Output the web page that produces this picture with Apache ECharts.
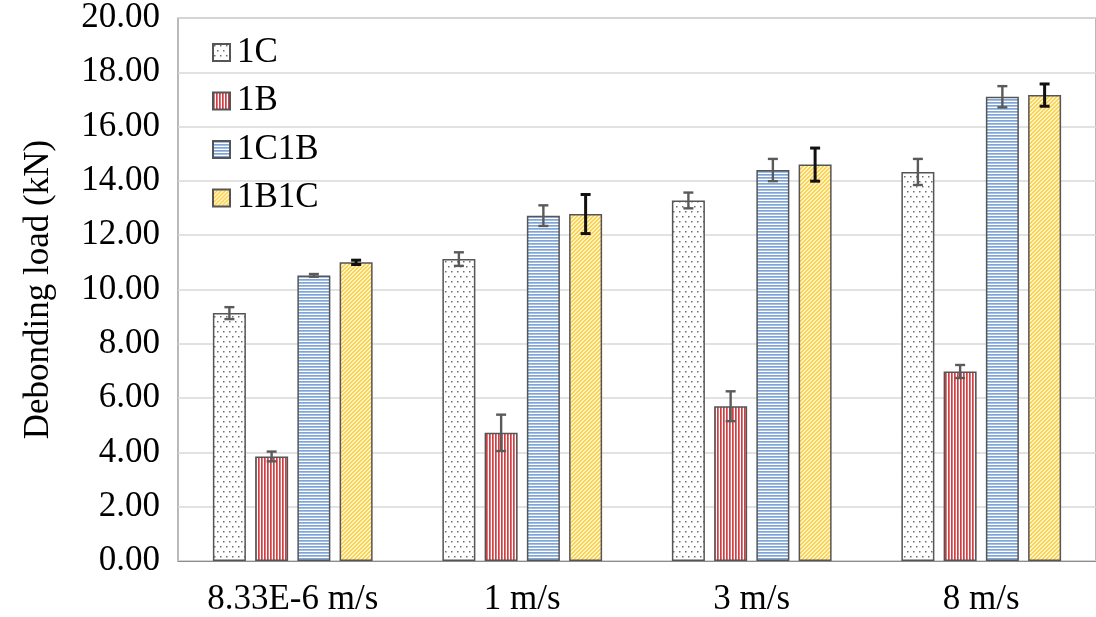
<!DOCTYPE html>
<html>
<head>
<meta charset="utf-8">
<script src="https://cdn.jsdelivr.net/npm/echarts@6/dist/echarts.min.js"></script>
<style>
  html, body { margin: 0; padding: 0; background: #ffffff; }
  #chart { width: 1096px; height: 617px; }
</style>
</head>
<body>
<div id="chart"></div>
<script>
// Loading rates (x categories)
const categories = ['8.33E-6 m/s', '1 m/s', '3 m/s', '8 m/s'];
// Series names
const seriesNames = ['1C', '1B', '1C1B', '1B1C'];
// Mean debonding load (kN)
const load1C   = [9.13, 11.12, 13.28, 14.33];
const load1B   = [3.85, 4.72, 5.70, 6.98];
const load1C1B = [10.52, 12.72, 14.40, 17.10];
const load1B1C = [11.00, 12.78, 14.60, 17.16];
// Standard deviation (kN)
const err1C   = [0.22, 0.25, 0.29, 0.48];
const err1B   = [0.18, 0.67, 0.55, 0.24];
const err1C1B = [0.05, 0.38, 0.41, 0.39];
const err1B1C = [0.08, 0.72, 0.61, 0.41];
// Y axis ticks
const yMin = 0, yMax = 20, yStep = 2;

const FONT = "'Liberation Serif', 'Times New Roman', serif";
const FS = 35;

// ---- fill patterns ----
function tile(w, h, paint) {
  const c = document.createElement('canvas');
  c.width = w; c.height = h;
  const g = c.getContext('2d');
  paint(g, w, h);
  return { image: c, repeat: 'repeat' };
}
// sparse grey dots on white
const dotFill = tile(6, 10, (g, w, h) => {
  g.fillStyle = '#ffffff'; g.fillRect(0, 0, w, h);
  g.fillStyle = '#6e6e6e';
  g.fillRect(1, 1, 1.5, 1.5);
  g.fillRect(4, 6, 1.5, 1.5);
});
// vertical red stripes
const vStripeFill = tile(3, 4, (g, w, h) => {
  g.fillStyle = '#ffffff'; g.fillRect(0, 0, w, h);
  g.fillStyle = '#cf3f44'; g.fillRect(0, 0, 1.7, h);
});
// horizontal blue stripes
const hStripeFill = tile(4, 3, (g, w, h) => {
  g.fillStyle = '#ffffff'; g.fillRect(0, 0, w, h);
  g.fillStyle = '#7ea4d8'; g.fillRect(0, 0, w, 1.7);
});
// yellow diagonal hatch
const diagFill = tile(4, 4, (g, w, h) => {
  g.fillStyle = '#fff4c6'; g.fillRect(0, 0, w, h);
  g.fillStyle = '#fdd152';
  for (let x = 0; x < w; x++) {
    for (let y = 0; y < h; y++) {
      const k = (x + y) % 4;
      if (k === 0 || k === 1) g.fillRect(x, y, 1, 1);
    }
  }
});

const fills = [dotFill, vStripeFill, hStripeFill, diagFill];
const values = [load1C, load1B, load1C1B, load1B1C];
const errors = [err1C, err1B, err1C1B, err1B1C];
const errColors = ['#5a5a5a', '#5a5a5a', '#5a5a5a', '#111111'];
const errWidths = [2.4, 2.4, 2.4, 3];

const BAR_W = 33;
const BAR_GAP = 0.28;

function errorSeries(idx) {
  return {
    type: 'custom',
    name: seriesNames[idx] + ' error',
    z: 5,
    silent: true,
    data: categories.map((c, i) => [i, values[idx][i] - errors[idx][i], values[idx][i] + errors[idx][i]]),
    renderItem: function (params, api) {
      const step = BAR_W * (1 + BAR_GAP);
      const dx = (idx - 1.5) * step;
      const lo = api.coord([api.value(0), api.value(1)]);
      const hi = api.coord([api.value(0), api.value(2)]);
      const x = lo[0] + dx;
      const half = 5;
      const style = { stroke: errColors[idx], lineWidth: errWidths[idx], fill: null };
      return {
        type: 'group',
        children: [
          { type: 'line', shape: { x1: x, y1: hi[1], x2: x, y2: lo[1] }, style: style },
          { type: 'line', shape: { x1: x - half, y1: hi[1], x2: x + half, y2: hi[1] }, style: style },
          { type: 'line', shape: { x1: x - half, y1: lo[1], x2: x + half, y2: lo[1] }, style: style }
        ]
      };
    }
  };
}

const barSeries = seriesNames.map((name, idx) => ({
  type: 'bar',
  name: name,
  data: values[idx],
  barWidth: BAR_W,
  barGap: (BAR_GAP * 100) + '%',
  itemStyle: { color: fills[idx], borderColor: '#555555', borderWidth: 1.5 },
  emphasis: { disabled: true },
  z: 2
}));

const chart = echarts.init(document.getElementById('chart'), null, { renderer: 'canvas' });
chart.setOption({
  animation: false,
  backgroundColor: '#ffffff',
  grid: {
    left: 178, top: 18, width: 924, height: 545,
    show: true, borderColor: '#8c8c8c', borderWidth: 1.2, backgroundColor: 'transparent'
  },
  legend: {
    data: seriesNames,
    orient: 'vertical',
    left: 207,
    top: 30,
    itemWidth: 17,
    itemHeight: 17,
    itemGap: 13.5,
    icon: 'rect',
    textStyle: { fontFamily: FONT, fontSize: FS, color: '#000000', padding: [0, 0, 0, 2] }
  },
  xAxis: {
    type: 'category',
    data: categories,
    axisLine: { show: true, lineStyle: { color: '#8c8c8c', width: 1.2 } },
    axisTick: { show: false },
    axisLabel: { fontFamily: FONT, fontSize: FS, color: '#000000', margin: 21 }
  },
  yAxis: {
    type: 'value',
    min: yMin, max: yMax, interval: yStep,
    name: 'Debonding load (kN)',
    nameLocation: 'middle',
    nameGap: 122,
    nameTextStyle: { fontFamily: FONT, fontSize: FS, color: '#000000' },
    axisLine: { show: false },
    axisTick: { show: false },
    splitLine: { lineStyle: { color: '#d9d9d9', width: 1.5 } },
    axisLabel: {
      fontFamily: FONT, fontSize: FS, color: '#000000', margin: 18,
      formatter: v => v.toFixed(2)
    }
  },
  series: barSeries.concat(seriesNames.map((n, i) => errorSeries(i)))
});
</script>
</body>
</html>
